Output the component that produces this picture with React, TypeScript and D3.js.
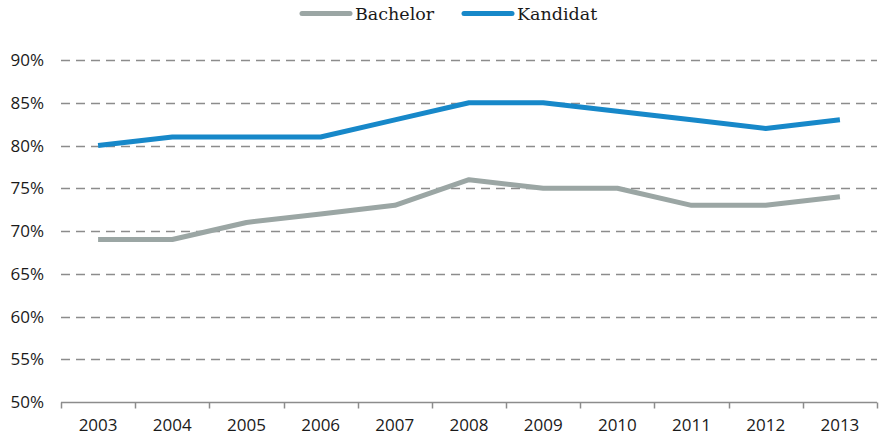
import React, { useRef, useEffect } from "react";
import * as d3 from "d3";

const years = ["2003", "2004", "2005", "2006", "2007", "2008", "2009", "2010", "2011", "2012", "2013"];
const bachelor = [69, 69, 71, 72, 73, 76, 75, 75, 73, 73, 74];
const kandidat = [80, 81, 81, 81, 83, 85, 85, 84, 83, 82, 83];
const yTicks = [50, 55, 60, 65, 70, 75, 80, 85, 90];

const series = [
    { name: "Bachelor", values: bachelor, color: "#9ba6a4" },
    { name: "Kandidat", values: kandidat, color: "#1788c9" },
];

const App = () => {
    const ref = useRef<SVGSVGElement>(null);
    const width = 879;
    const height = 436;
    const margin = { left: 61, right: 2, top: 60, bottom: 34 };

    useEffect(() => {
        const svg = d3.select(ref.current);
        svg.selectAll("*").remove();

        const x = d3
            .scaleBand()
            .domain(years)
            .range([margin.left, width - margin.right]);
        const y = d3
            .scaleLinear()
            .domain([50, 90])
            .range([height - margin.bottom, margin.top]);

        // grid
        svg.append("g")
            .selectAll("line")
            .data(yTicks.slice(1))
            .enter()
            .append("line")
            .attr("x1", margin.left)
            .attr("x2", width - margin.right)
            .attr("y1", (d) => Math.round(y(d)) + 0.5)
            .attr("y2", (d) => Math.round(y(d)) + 0.5)
            .attr("stroke", "#8c8c8c")
            .attr("stroke-width", 1.5)
            .attr("stroke-dasharray", "9,6");

        // y labels
        svg.append("g")
            .selectAll("text")
            .data(yTicks)
            .enter()
            .append("text")
            .attr("x", 44)
            .attr("y", (d) => y(d) + 6)
            .attr("text-anchor", "end")
            .style("font-family", "Open Sans")
            .style("font-size", "17px")
            .style("fill", "#1a1a1a")
            .text((d) => d + "%");

        // x axis
        const base = Math.round(y(50)) + 0.5;
        svg.append("line")
            .attr("x1", margin.left)
            .attr("x2", width - margin.right)
            .attr("y1", base)
            .attr("y2", base)
            .attr("stroke", "#8c8c8c")
            .attr("stroke-width", 1.5);

        const edges = years.map((d) => x(d) as number).concat([width - margin.right]);
        svg.append("g")
            .selectAll("line")
            .data(edges)
            .enter()
            .append("line")
            .attr("x1", (d) => Math.round(d) + 0.5)
            .attr("x2", (d) => Math.round(d) + 0.5)
            .attr("y1", base)
            .attr("y2", base + 6)
            .attr("stroke", "#8c8c8c")
            .attr("stroke-width", 1.5);

        svg.append("g")
            .selectAll("text")
            .data(years)
            .enter()
            .append("text")
            .attr("x", (d) => (x(d) as number) + x.bandwidth() / 2)
            .attr("y", 431)
            .attr("text-anchor", "middle")
            .style("font-family", "Open Sans")
            .style("font-size", "17px")
            .style("fill", "#1a1a1a")
            .text((d) => d);

        // lines
        const line = d3
            .line<number>()
            .x((d, i) => (x(years[i]) as number) + x.bandwidth() / 2)
            .y((d) => y(d));

        series.forEach((s) => {
            svg.append("path")
                .attr("d", line(s.values))
                .attr("fill", "none")
                .attr("stroke", s.color)
                .attr("stroke-width", 5)
                .attr("stroke-linejoin", "round");
        });

        // legend
        const legend = [
            { s: series[0], x0: 300 },
            { s: series[1], x0: 462 },
        ];
        legend.forEach(({ s, x0 }) => {
            svg.append("line")
                .attr("x1", x0 + 2)
                .attr("x2", x0 + 50)
                .attr("y1", 13.5)
                .attr("y2", 13.5)
                .attr("stroke", s.color)
                .attr("stroke-width", 5)
                .attr("stroke-linecap", "round");
            svg.append("text")
                .attr("x", x0 + 55)
                .attr("y", 20)
                .style("font-family", "DejaVu Serif")
                .style("font-size", "17.5px")
                .style("fill", "#1a1a1a")
                .text(s.name);
        });
    });

    return (
        <svg
            ref={ref}
            width={width}
            height={height}
            style={{ position: "absolute", left: 0, top: 0 }}
        ></svg>
    );
};

export default App;
